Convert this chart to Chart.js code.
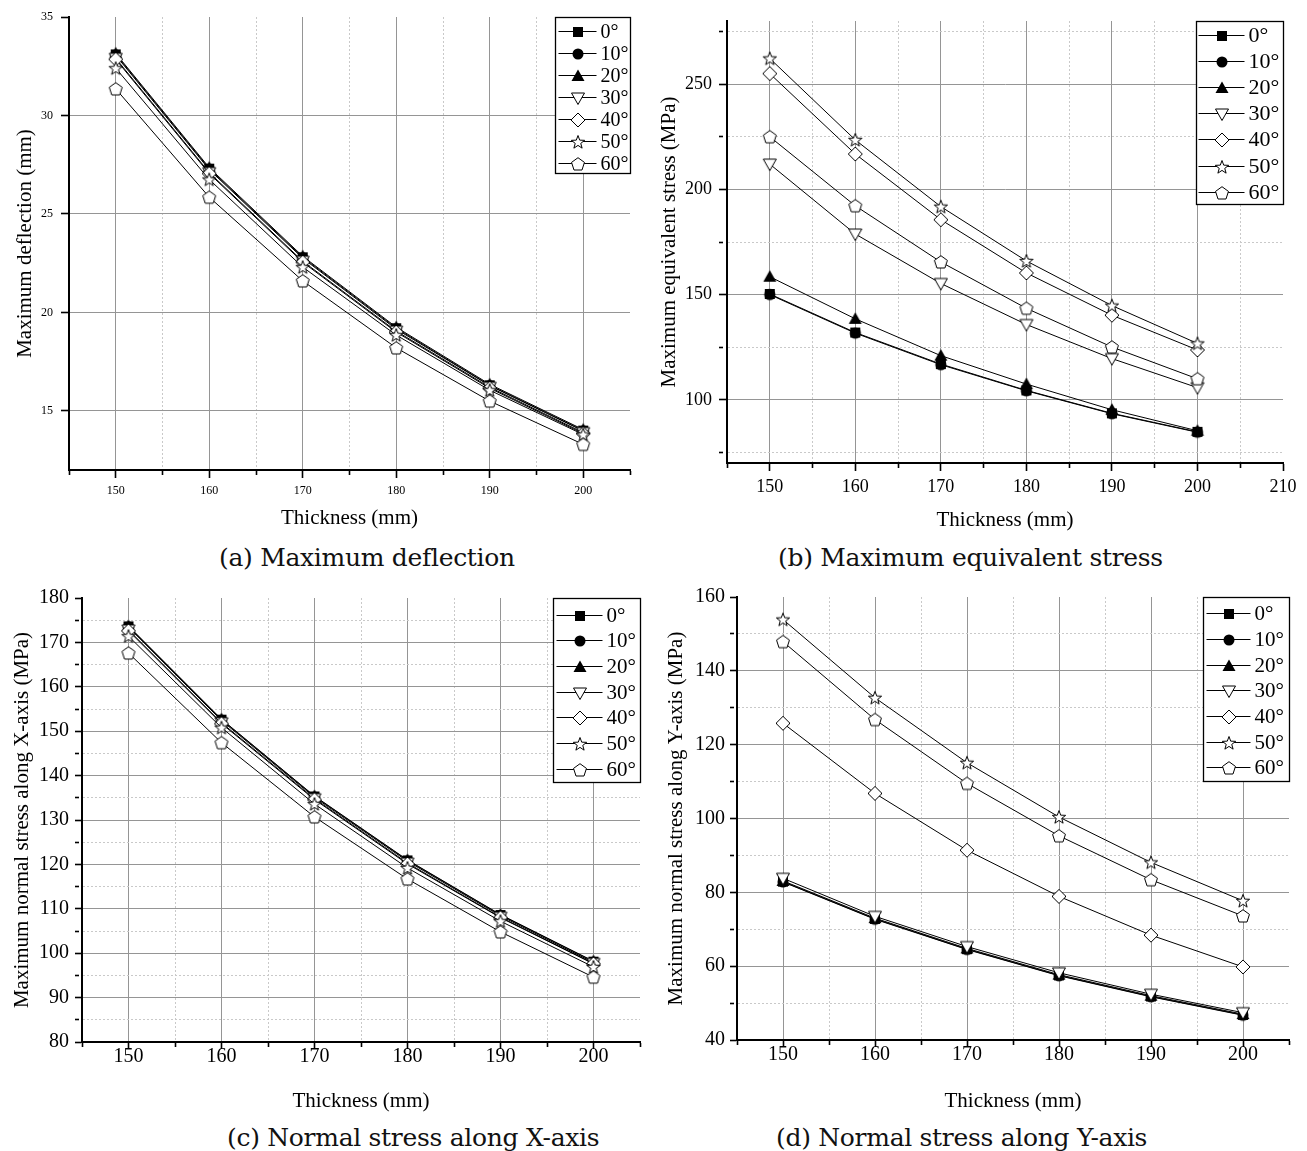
<!DOCTYPE html>
<html>
<head>
<meta charset="utf-8">
<title>Thickness study</title>
<script src="https://cdn.jsdelivr.net/npm/chart.js@4.4.1/dist/chart.umd.min.js"></script>
<style>
  html, body { margin: 0; padding: 0; background: #fff; }
  #page { position: relative; width: 1307px; height: 1151px; overflow: hidden; }
  .panel { position: absolute; }
  .caption {
    position: absolute;
    transform: translateY(-50%);
    font-family: "DejaVu Serif", serif;
    font-size: 25px;
    letter-spacing: -0.3px;
    white-space: nowrap;
    color: #111;
  }
</style>
</head>
<body>
<div id="page">
  <canvas id="chart-a" class="panel" width="650" height="540" style="left:0;top:0"></canvas>
  <canvas id="chart-b" class="panel" width="657" height="540" style="left:650px;top:0"></canvas>
  <canvas id="chart-c" class="panel" width="650" height="540" style="left:0;top:580px"></canvas>
  <canvas id="chart-d" class="panel" width="657" height="540" style="left:650px;top:580px"></canvas>
  <div class="caption" style="left:219px;top:557px">(a) Maximum deflection</div>
  <div class="caption" style="left:778px;top:557px">(b) Maximum equivalent stress</div>
  <div class="caption" style="left:227px;top:1137px">(c) Normal stress along X-axis</div>
  <div class="caption" style="left:776px;top:1137px">(d) Normal stress along Y-axis</div>
</div>
<script>
// x values and series names
const thickness = [150, 160, 170, 180, 190, 200];
const angles = ['0°', '10°', '20°', '30°', '40°', '50°', '60°'];

// (a) maximum deflection (mm), one row per angle
const deflection = [
  [33.1, 27.3, 22.8, 19.2, 16.3, 14.0],
  [33.05, 27.25, 22.75, 19.15, 16.28, 13.98],
  [33.15, 27.35, 22.85, 19.25, 16.35, 14.05],
  [32.9, 27.1, 22.6, 19.05, 16.2, 13.9],
  [32.85, 27.05, 22.55, 19.0, 16.15, 13.85],
  [32.4, 26.75, 22.3, 18.85, 16.05, 13.8],
  [31.35, 25.85, 21.6, 18.2, 15.5, 13.3]
];

// (b) maximum equivalent stress (MPa)
const eqStress = [
  [150.3, 132.0, 117.0, 104.5, 93.6, 84.8],
  [150.0, 131.7, 116.7, 104.3, 93.4, 84.6],
  [158.5, 138.5, 121.0, 107.5, 95.3, 85.3],
  [212.0, 178.8, 155.3, 135.8, 119.6, 105.8],
  [255.0, 216.8, 185.6, 160.3, 140.2, 123.7],
  [262.2, 223.5, 191.8, 166.0, 144.8, 126.8],
  [225.0, 192.2, 165.5, 143.5, 125.1, 110.0]
];

// (c) maximum normal stress along X-axis (MPa)
const stressX = [
  [173.6, 152.6, 135.3, 120.9, 108.6, 98.1],
  [173.4, 152.4, 135.1, 120.7, 108.4, 97.9],
  [173.7, 152.7, 135.4, 121.0, 108.7, 98.2],
  [172.8, 151.9, 134.8, 120.3, 108.1, 97.7],
  [172.6, 151.7, 134.6, 120.1, 108.0, 97.6],
  [171.4, 150.8, 133.6, 119.2, 107.2, 96.9],
  [167.6, 147.4, 130.7, 116.7, 104.8, 94.6]
];

// (d) maximum normal stress along Y-axis (MPa)
const stressY = [
  [82.9, 72.8, 64.6, 57.5, 51.8, 46.8],
  [82.8, 72.7, 64.5, 57.4, 51.7, 46.7],
  [83.1, 73.0, 64.8, 57.7, 52.0, 47.0],
  [83.8, 73.5, 65.3, 58.2, 52.4, 47.4],
  [125.8, 106.8, 91.4, 78.9, 68.4, 59.8],
  [153.9, 132.7, 115.1, 100.4, 88.1, 77.7],
  [147.9, 126.8, 109.5, 95.3, 83.4, 73.6]
];

// tick values of each axis
const xTicksA = [145, 150, 155, 160, 165, 170, 175, 180, 185, 190, 195, 200, 205];
const xTicksB = [145, 150, 155, 160, 165, 170, 175, 180, 185, 190, 195, 200, 205, 210];
const yTicksA = [15, 20, 25, 30, 35];
const yTicksB = [75, 100, 125, 150, 175, 200, 225, 250, 275];
const yTicksC = [80, 85, 90, 95, 100, 105, 110, 115, 120, 125, 130, 135, 140, 145, 150, 155, 160, 165, 170, 175, 180];
const yTicksD = [40, 50, 60, 70, 80, 90, 100, 110, 120, 130, 140, 150, 160];

const SERIF = '"Liberation Serif", "Times New Roman", serif';
const MAJOR = '#959595';
const MINOR = '#c9c9c9';

// markers: filled square, circle, triangle, then open ones
function marker(kind) {
  const c = document.createElement('canvas');
  c.width = 18; c.height = 18;
  const g = c.getContext('2d');
  const m = 9;
  g.lineWidth = 1;
  g.strokeStyle = '#000';
  g.fillStyle = '#000';
  g.beginPath();
  if (kind === 'square') {
    g.rect(m - 5, m - 5, 10, 10);
  } else if (kind === 'circle') {
    g.arc(m, m, 5.5, 0, Math.PI * 2);
  } else if (kind === 'tri') {
    g.moveTo(m, m - 6.5); g.lineTo(m + 6.5, m + 5); g.lineTo(m - 6.5, m + 5); g.closePath();
  } else if (kind === 'itri') {
    g.moveTo(m - 6.5, m - 5); g.lineTo(m + 6.5, m - 5); g.lineTo(m, m + 6.5); g.closePath();
  } else if (kind === 'diamond') {
    g.moveTo(m, m - 7); g.lineTo(m + 7, m); g.lineTo(m, m + 7); g.lineTo(m - 7, m); g.closePath();
  } else if (kind === 'star') {
    for (let k = 0; k < 10; k++) {
      const r = k % 2 ? 2.9 : 7;
      const a = -Math.PI / 2 + k * Math.PI / 5;
      const px = m + r * Math.cos(a), py = m + 0.5 + r * Math.sin(a);
      if (k === 0) g.moveTo(px, py); else g.lineTo(px, py);
    }
    g.closePath();
  } else if (kind === 'pent') {
    for (let k = 0; k < 5; k++) {
      const a = -Math.PI / 2 + k * 2 * Math.PI / 5;
      const px = m + 6.8 * Math.cos(a), py = m + 0.5 + 6.8 * Math.sin(a);
      if (k === 0) g.moveTo(px, py); else g.lineTo(px, py);
    }
    g.closePath();
  }
  if (kind === 'square' || kind === 'circle' || kind === 'tri') {
    g.fill();
  } else {
    g.fillStyle = '#fff';
    g.fill();
    g.stroke();
  }
  return c;
}
const markers = ['square', 'circle', 'tri', 'itri', 'diamond', 'star', 'pent'].map(marker);

// boxed legend in the top right corner of the plot area
const boxLegend = {
  id: 'boxLegend',
  afterDraw(chart, args, o) {
    const ctx = chart.ctx;
    const area = chart.chartArea;
    const x0 = Math.round(area.right - o.width) + 0.5;
    const y0 = Math.round(area.top) + 0.5;
    ctx.save();
    ctx.fillStyle = '#fff';
    ctx.fillRect(x0, y0, o.width, o.height);
    ctx.strokeStyle = '#000';
    ctx.lineWidth = 1.3;
    ctx.strokeRect(x0, y0, o.width, o.height);
    ctx.font = o.fontSize + 'px ' + SERIF;
    ctx.textBaseline = 'middle';
    ctx.fillStyle = '#000';
    chart.data.datasets.forEach((ds, i) => {
      const y = Math.round(y0 + o.first + i * o.rowH) + 0.5;
      ctx.lineWidth = 1;
      ctx.beginPath();
      ctx.moveTo(x0 + o.lineFrom, y);
      ctx.lineTo(x0 + o.lineTo, y);
      ctx.stroke();
      const img = ds.pointStyle;
      const mx = x0 + (o.lineFrom + o.lineTo) / 2;
      ctx.drawImage(img, Math.round(mx - img.width / 2), Math.round(y - img.height / 2));
      ctx.fillText(ds.label, x0 + o.textX, y + 1);
    });
    ctx.restore();
  }
};

function isMajor(v, step) {
  return Math.abs(v / step - Math.round(v / step)) < 1e-6;
}

function axisGrid(min, max, majorStep) {
  return {
    color: c => {
      const v = c.tick ? c.tick.value : NaN;
      if (v === min || v === max) return 'rgba(0,0,0,0)';
      return isMajor(v, majorStep) ? MAJOR : MINOR;
    },
    lineWidth: 1,
    drawTicks: true,
    tickColor: '#000',
    tickWidth: 1.6,
    tickBorderDash: c => (c.tick && !isMajor(c.tick.value, majorStep) ? [4, 40] : [])
  };
}

function axisBorder(majorStep) {
  return {
    display: true,
    color: '#000',
    width: 2,
    dash: c => (c.tick && !isMajor(c.tick.value, majorStep) ? [2, 2] : [])
  };
}

function makeChart(id, cfg) {
  const datasets = cfg.series.map((vals, i) => ({
    label: angles[i],
    data: thickness.map((t, j) => ({ x: t, y: vals[j] })),
    borderColor: '#000',
    borderWidth: 1,
    pointStyle: markers[i],
    pointRadius: 6,
    fill: false,
    tension: 0,
    order: 10 - i
  }));

  new Chart(document.getElementById(id), {
    type: 'line',
    data: { datasets: datasets },
    plugins: [boxLegend],
    options: {
      responsive: false,
      animation: false,
      devicePixelRatio: 1,
      events: [],
      layout: { padding: { top: cfg.top, right: cfg.right, left: 0, bottom: 0 } },
      plugins: {
        legend: { display: false },
        tooltip: { enabled: false },
        boxLegend: cfg.legend
      },
      scales: {
        x: {
          type: 'linear',
          min: cfg.xTicks[0],
          max: cfg.xTicks[cfg.xTicks.length - 1],
          afterBuildTicks: s => { s.ticks = cfg.xTicks.map(v => ({ value: v })); },
          afterFit: s => { s.height = cfg.xHeight; },
          ticks: {
            autoSkip: false,
            maxRotation: 0,
            padding: cfg.xPad,
            color: '#000',
            font: { family: SERIF, size: cfg.tickSize },
            callback: v => (isMajor(v, 10) && v >= 150 ? String(v) : '')
          },
          grid: Object.assign(axisGrid(cfg.xTicks[0], cfg.xTicks[cfg.xTicks.length - 1], 10), { tickLength: cfg.tickLen }),
          border: axisBorder(10),
          title: {
            display: true,
            text: 'Thickness (mm)',
            color: '#000',
            font: { family: SERIF, size: cfg.titleSize },
            padding: { top: 0, bottom: cfg.xTitlePad }
          }
        },
        y: {
          type: 'linear',
          min: cfg.yMin,
          max: cfg.yMax,
          afterBuildTicks: s => { s.ticks = cfg.yTicks.map(v => ({ value: v })); },
          afterFit: s => { s.width = cfg.yWidth; },
          ticks: {
            autoSkip: false,
            padding: cfg.yPad,
            color: '#000',
            font: { family: SERIF, size: cfg.tickSize },
            callback: v => (isMajor(v, cfg.yLabelStep) ? String(v) : '')
          },
          grid: Object.assign(axisGrid(cfg.yMin, cfg.yMax, cfg.yMajor), { tickLength: cfg.tickLen }),
          border: axisBorder(cfg.yMajor),
          title: {
            display: true,
            text: cfg.yTitle,
            color: '#000',
            font: { family: SERIF, size: cfg.titleSize },
            padding: { top: cfg.yTitlePad, bottom: 0 }
          }
        }
      }
    }
  });
}

makeChart('chart-a', {
  series: deflection, xTicks: xTicksA, yTicks: yTicksA,
  yMin: 12, yMax: 35, yMajor: 5, yLabelStep: 5,
  top: 17, right: 20, yWidth: 69, xHeight: 70,
  tickSize: 12, titleSize: 21, tickLen: 8, xPad: 6, yPad: 8,
  xTitlePad: 9, yTitlePad: 13,
  yTitle: 'Maximum deflection (mm)',
  legend: { width: 75, height: 156, first: 13, rowH: 22.05, lineFrom: 3, lineTo: 41, textX: 45, fontSize: 20 }
});

makeChart('chart-b', {
  series: eqStress, xTicks: xTicksB, yTicks: yTicksB,
  yMin: 70, yMax: 280, yMajor: 50, yLabelStep: 50,
  top: 21, right: 24, yWidth: 77, xHeight: 77,
  tickSize: 18, titleSize: 21, tickLen: 8, xPad: 5, yPad: 7,
  xTitlePad: 7, yTitlePad: 7,
  yTitle: 'Maximum equivalent stress (MPa)',
  legend: { width: 87, height: 183, first: 13.5, rowH: 26.1, lineFrom: 2, lineTo: 48, textX: 52, fontSize: 22 }
});

makeChart('chart-c', {
  series: stressX, xTicks: xTicksA, yTicks: yTicksC,
  yMin: 80, yMax: 180, yMajor: 10, yLabelStep: 10,
  top: 17, right: 10, yWidth: 82, xHeight: 78,
  tickSize: 20, titleSize: 21, tickLen: 7, xPad: -4, yPad: 6,
  xTitlePad: 6, yTitlePad: 10,
  yTitle: 'Maximum normal stress along X-axis (MPa)',
  legend: { width: 87, height: 184, first: 16, rowH: 25.7, lineFrom: 3, lineTo: 49, textX: 53, fontSize: 21 }
});

makeChart('chart-d', {
  series: stressY, xTicks: xTicksA, yTicks: yTicksD,
  yMin: 40, yMax: 160, yMajor: 20, yLabelStep: 20,
  top: 17, right: 18, yWidth: 87, xHeight: 80,
  tickSize: 20, titleSize: 21, tickLen: 7, xPad: -4, yPad: 5,
  xTitlePad: 6, yTitlePad: 14,
  yTitle: 'Maximum normal stress along Y-axis (MPa)',
  legend: { width: 86, height: 184, first: 15.7, rowH: 25.7, lineFrom: 3, lineTo: 47, textX: 51, fontSize: 21 }
});
</script>
</body>
</html>
